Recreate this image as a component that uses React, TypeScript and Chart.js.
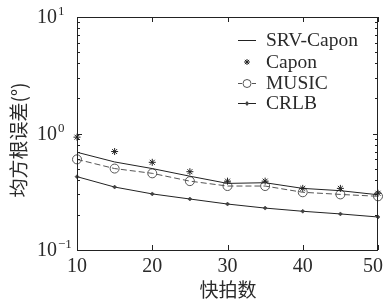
import React, { useEffect, useRef } from 'react';
import { Chart, registerables } from 'chart.js';
Chart.register(...registerables);

const snapshots = [10, 15, 20, 25, 30, 35, 40, 45, 50];
const srvCapon = [0.69, 0.57, 0.5, 0.43, 0.373, 0.378, 0.338, 0.323, 0.298];
const capon = [0.93, 0.7, 0.566, 0.47, 0.39, 0.39, 0.338, 0.338, 0.307];
const music = [0.6, 0.5, 0.455, 0.39, 0.354, 0.354, 0.313, 0.3, 0.289];
const crlb = [0.426, 0.347, 0.303, 0.274, 0.248, 0.229, 0.215, 0.204, 0.192];
const xTicks = [10, 20, 30, 40, 50];
const yTickExponents = [-1, 0, 1];
const seriesNames = ['SRV-Capon', 'Capon', 'MUSIC', 'CRLB'];
const xTitle = '快拍数';
const yTitle = '均方根误差(°)';

const SERIF = '"Liberation Serif", "DejaVu Serif", serif';
const CJK = '"Noto Sans CJK SC", sans-serif';
const INK = '#222';
const TEXT = '#2a2a2a';

const pts = (ys: number[]) => snapshots.map((x, i) => ({ x, y: ys[i] }));

const decorPlugin = {
  id: 'decor',
  afterDraw(chart: any) {
    const ctx = chart.ctx as CanvasRenderingContext2D;
    const { left, right, top, bottom } = chart.chartArea;
    const xs = chart.scales.x;
    const ys = chart.scales.y;
    ctx.save();
    ctx.strokeStyle = INK;
    ctx.lineWidth = 1;
    // box
    ctx.strokeRect(Math.round(left) + 0.5, Math.round(top) + 0.5, Math.round(right - left) - 1, Math.round(bottom - top));
    // x ticks
    ctx.beginPath();
    xTicks.forEach((v) => {
      const px = Math.round(xs.getPixelForValue(v)) + 0.5;
      ctx.moveTo(px, bottom);
      ctx.lineTo(px, bottom - 5);
      ctx.moveTo(px, top);
      ctx.lineTo(px, top + 5);
    });
    // y ticks major and minor
    for (let e = -1; e <= 0; e++) {
      for (let m = 1; m <= 9; m++) {
        const v = m * Math.pow(10, e);
        const py = Math.round(ys.getPixelForValue(v)) + 0.5;
        const len = m === 1 ? 5 : 3;
        ctx.moveTo(left, py);
        ctx.lineTo(left + len, py);
        ctx.moveTo(right, py);
        ctx.lineTo(right - len, py);
      }
    }
    ctx.stroke();

    // x tick labels
    ctx.fillStyle = TEXT;
    ctx.font = `20px ${SERIF}`;
    ctx.textAlign = 'center';
    ctx.textBaseline = 'middle';
    const W = chart.width;
    xTicks.forEach((v) => {
      const label = String(v);
      const half = ctx.measureText(label).width / 2;
      const cx = Math.min(xs.getPixelForValue(v), W - half - 2);
      ctx.fillText(label, cx, bottom + 17);
    });
    // y tick labels with superscripts
    yTickExponents.forEach((e) => {
      const py = ys.getPixelForValue(Math.pow(10, e));
      ctx.font = `20px ${SERIF}`;
      ctx.textAlign = 'right';
      ctx.fillText('10', 57, py + 1);
      ctx.font = `13px ${SERIF}`;
      ctx.textAlign = 'left';
      ctx.fillText(e < 0 ? '\u2212' + Math.abs(e) : String(e), 58, py - 5);
    });

    // axis titles
    ctx.font = `19px ${CJK}`;
    ctx.textAlign = 'center';
    ctx.fillText(xTitle, 228, 290);
    ctx.save();
    ctx.translate(19, 140);
    ctx.rotate(-Math.PI / 2);
    ctx.fillText(yTitle, 0, 0);
    ctx.restore();

    // legend
    const rows = [40, 62, 83, 103];
    const x0 = 238, x1 = 256, xm = 247, tx = 266;
    ctx.font = `19.5px ${SERIF}`;
    ctx.textAlign = 'left';
    ctx.textBaseline = 'middle';
    rows.forEach((ry, i) => {
      ctx.fillStyle = TEXT;
      ctx.fillText(seriesNames[i], tx, ry + 1);
    });
    // SRV-Capon line
    ctx.strokeStyle = INK;
    ctx.beginPath();
    ctx.moveTo(x0, rows[0] + 0.5);
    ctx.lineTo(x1, rows[0] + 0.5);
    ctx.stroke();
    // Capon star
    ctx.beginPath();
    const r = 3;
    for (let k = 0; k < 4; k++) {
      const a = (k * Math.PI) / 4;
      ctx.moveTo(xm - r * Math.cos(a), rows[1] - r * Math.sin(a));
      ctx.lineTo(xm + r * Math.cos(a), rows[1] + r * Math.sin(a));
    }
    ctx.stroke();
    // MUSIC dashed with circle
    ctx.strokeStyle = '#555';
    ctx.beginPath();
    ctx.moveTo(x0, rows[2] + 0.5);
    ctx.lineTo(x0 + 4, rows[2] + 0.5);
    ctx.moveTo(x1 - 4, rows[2] + 0.5);
    ctx.lineTo(x1, rows[2] + 0.5);
    ctx.stroke();
    ctx.beginPath();
    ctx.arc(xm, rows[2] + 0.5, 4, 0, Math.PI * 2);
    ctx.stroke();
    // CRLB line with diamond
    ctx.strokeStyle = INK;
    ctx.beginPath();
    ctx.moveTo(x0, rows[3] + 0.5);
    ctx.lineTo(x1, rows[3] + 0.5);
    ctx.stroke();
    ctx.fillStyle = '#444';
    ctx.beginPath();
    ctx.moveTo(xm, rows[3] - 2);
    ctx.lineTo(xm + 2, rows[3] + 0.5);
    ctx.lineTo(xm, rows[3] + 3);
    ctx.lineTo(xm - 2, rows[3] + 0.5);
    ctx.closePath();
    ctx.fill();
    ctx.restore();
  },
};

export default function App() {
  const ref = useRef<HTMLCanvasElement | null>(null);
  useEffect(() => {
    document.body.style.margin = '0';
    document.body.style.background = '#fff';
    const canvas = ref.current!;
    const chart = new Chart(canvas, {
      type: 'line',
      data: {
        datasets: [
          {
            label: seriesNames[0],
            data: pts(srvCapon),
            borderColor: '#222',
            borderWidth: 1,
            pointRadius: 0,
            tension: 0,
            clip: false,
          },
          {
            label: seriesNames[1],
            data: pts(capon),
            showLine: false,
            pointStyle: 'star',
            pointRadius: 3.5,
            borderColor: '#222',
            pointBorderColor: '#222',
            pointBorderWidth: 1,
            clip: false,
          },
          {
            label: seriesNames[2],
            data: pts(music),
            borderColor: '#555',
            borderWidth: 1,
            borderDash: [6, 3],
            pointStyle: 'circle',
            pointRadius: 4.5,
            pointBorderColor: '#555',
            pointBackgroundColor: 'rgba(255,255,255,0)',
            pointBorderWidth: 1,
            tension: 0,
            clip: false,
          },
          {
            label: seriesNames[3],
            data: pts(crlb),
            borderColor: '#222',
            borderWidth: 1,
            pointStyle: 'rectRot',
            pointRadius: 2,
            pointBorderColor: '#333',
            pointBackgroundColor: '#444',
            pointBorderWidth: 0.5,
            tension: 0,
            clip: false,
          },
        ] as any,
      },
      options: {
        responsive: false,
        animation: false,
        devicePixelRatio: 1,
        layout: { padding: { left: 0, right: 7, top: 17, bottom: 0 } },
        scales: {
          x: {
            type: 'linear',
            min: 10,
            max: 50,
            ticks: { display: false },
            grid: { display: false },
            border: { display: false },
            afterFit: (s: any) => {
              s.height = 55;
            },
          },
          y: {
            type: 'logarithmic',
            min: 0.1,
            max: 10,
            ticks: { display: false },
            grid: { display: false },
            border: { display: false },
            afterFit: (s: any) => {
              s.width = 77;
            },
          },
        },
        plugins: {
          legend: { display: false },
          tooltip: { enabled: false },
        },
      } as any,
      plugins: [decorPlugin],
    });
    return () => chart.destroy();
  }, []);
  return <canvas ref={ref} width={385} height={305} style={{ display: 'block' }} />;
}
